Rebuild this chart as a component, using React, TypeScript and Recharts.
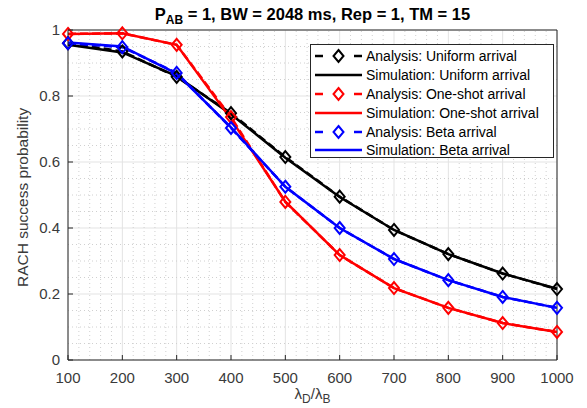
import React from 'react';
import { LineChart, Line, XAxis, YAxis, CartesianGrid, ReferenceLine } from 'recharts';

const xValues = [100, 200, 300, 400, 500, 600, 700, 800, 900, 1000];

const anaUniform = [0.96, 0.935, 0.858, 0.748, 0.615, 0.495, 0.394, 0.321, 0.262, 0.215];
const simUniform = [0.955, 0.932, 0.86, 0.745, 0.613, 0.494, 0.394, 0.321, 0.262, 0.216];
const anaOneShot = [0.988, 0.99, 0.955, 0.736, 0.479, 0.318, 0.218, 0.158, 0.112, 0.085];
const simOneShot = [0.988, 0.99, 0.955, 0.73, 0.48, 0.318, 0.218, 0.158, 0.112, 0.085];
const anaBeta = [0.96, 0.948, 0.87, 0.703, 0.525, 0.4, 0.306, 0.242, 0.191, 0.158];
const simBeta = [0.962, 0.95, 0.868, 0.705, 0.525, 0.4, 0.306, 0.242, 0.191, 0.158];

const xTicks = [100, 200, 300, 400, 500, 600, 700, 800, 900, 1000];
const yTicks = [0, 0.2, 0.4, 0.6, 0.8, 1];
const yTickLabels = ['0', '0.2', '0.4', '0.6', '0.8', '1'];

// minor grid every 20 on x, 0.05 on y
const xMinor: number[] = [];
for (let v = 120; v < 1000; v += 20) if (v % 100 !== 0) xMinor.push(v);
const yMinor: number[] = [];
for (let i = 1; i < 20; i++) if (i % 4 !== 0) yMinor.push(i * 0.05);

const data = xValues.map((x, i) => ({
  x,
  anaU: anaUniform[i],
  simU: simUniform[i],
  anaO: anaOneShot[i],
  simO: simOneShot[i],
  anaB: anaBeta[i],
  simB: simBeta[i],
}));

const BLACK = '#000000';
const RED = '#ff0000';
const BLUE = '#0000ff';
const AXIS = '#262626';
const TEXT = '#3a3a3a';
const FONT = '"Liberation Sans", Arial, Helvetica, sans-serif';

const diamond = (color: string) => (props: any) => {
  const { cx, cy, index } = props;
  if (cx == null || cy == null) return <g key={`d-${index}`} />;
  return (
    <polygon
      key={`d-${index}`}
      points={`${cx},${cy - 6} ${cx + 5},${cy} ${cx},${cy + 6} ${cx - 5},${cy}`}
      fill="none"
      stroke={color}
      strokeWidth={2}
    />
  );
};

const XTick = (props: any) => {
  const { x, y, payload } = props;
  const axisY = y - 8;
  return (
    <g>
      <line x1={x} x2={x} y1={axisY} y2={axisY - 5} stroke={AXIS} strokeWidth={1} />
      <text x={x} y={y} dy={15} textAnchor="middle" fontSize={15} fill={TEXT} fontFamily={FONT}>
        {payload.value}
      </text>
    </g>
  );
};

const YTick = (props: any) => {
  const { x, y, payload } = props;
  const axisX = x + 8;
  return (
    <g>
      <line x1={axisX} x2={axisX + 5} y1={y} y2={y} stroke={AXIS} strokeWidth={1} />
      <text x={x} y={y} dy={5} textAnchor="end" fontSize={15} fill={TEXT} fontFamily={FONT}>
        {yTickLabels[yTicks.indexOf(payload.value)] ?? payload.value}
      </text>
    </g>
  );
};

const XLabel = (props: any) => {
  const { viewBox } = props;
  const cx = viewBox.x + viewBox.width / 2;
  return (
    <text x={cx} y={399} textAnchor="middle" fontSize={15} fill={TEXT} fontFamily={FONT}>
      <tspan>λ</tspan>
      <tspan fontSize={12} dy={4}>D</tspan>
      <tspan dy={-4}>/λ</tspan>
      <tspan fontSize={12} dy={4}>B</tspan>
    </text>
  );
};

const legendItems = [
  { label: 'Analysis: Uniform arrival', color: BLACK, dashed: true },
  { label: 'Simulation: Uniform arrival', color: BLACK, dashed: false },
  { label: 'Analysis: One-shot arrival', color: RED, dashed: true },
  { label: 'Simulation: One-shot arrival', color: RED, dashed: false },
  { label: 'Analysis: Beta arrival', color: BLUE, dashed: true },
  { label: 'Simulation: Beta arrival', color: BLUE, dashed: false },
];

const ChartLegend = () => (
  <div
    style={{
      position: 'absolute',
      left: 310,
      top: 44,
      width: 244,
      height: 114,
      border: '1px solid #262626',
      background: '#fff',
      boxSizing: 'border-box',
      paddingTop: 2,
    }}
  >
    {legendItems.map((it) => (
      <div key={it.label} style={{ display: 'flex', alignItems: 'center', height: 18.8 }}>
        <svg width={52} height={16} style={{ marginLeft: 2, flexShrink: 0 }}>
          {it.dashed ? (
            <>
              <line x1={2} x2={10} y1={8} y2={8} stroke={it.color} strokeWidth={2.5} />
              <line x1={41} x2={49} y1={8} y2={8} stroke={it.color} strokeWidth={2.5} />
              <polygon points="25.5,2 30.5,8 25.5,14 20.5,8" fill="none" stroke={it.color} strokeWidth={2} />
            </>
          ) : (
            <line x1={2} x2={49} y1={8} y2={8} stroke={it.color} strokeWidth={2.5} />
          )}
        </svg>
        <span style={{ fontSize: 14, fontFamily: FONT, color: '#000', marginLeft: 1, whiteSpace: 'nowrap' }}>
          {it.label}
        </span>
      </div>
    ))}
  </div>
);

const series = [
  { key: 'anaU', color: BLACK, dashed: true },
  { key: 'simU', color: BLACK, dashed: false },
  { key: 'anaO', color: RED, dashed: true },
  { key: 'simO', color: RED, dashed: false },
  { key: 'anaB', color: BLUE, dashed: true },
  { key: 'simB', color: BLUE, dashed: false },
];

export default function App() {
  return (
    <div style={{ position: 'absolute', left: 0, top: 0, width: 587, height: 408, background: '#fff' }}>
      <div
        style={{
          position: 'absolute',
          left: 0,
          width: 625,
          top: 5,
          textAlign: 'center',
          fontFamily: FONT,
          fontWeight: 'bold',
          fontSize: 16.5,
          color: '#000',
        }}
      >
        P<sub style={{ fontSize: 12 }}>AB</sub> = 1, BW = 2048 ms, Rep = 1, TM = 15
      </div>
      <LineChart width={587} height={408} data={data} margin={{ top: 30, right: 30, bottom: 18, left: 28 }}>
        <CartesianGrid stroke="#e3e3e3" strokeWidth={1} />
        {xMinor.map((v) => (
          <ReferenceLine key={`xm${v}`} x={v} stroke="#d0d0d0" strokeDasharray="1 3" strokeWidth={1} />
        ))}
        {yMinor.map((v) => (
          <ReferenceLine key={`ym${v}`} y={v} stroke="#d0d0d0" strokeDasharray="1 3" strokeWidth={1} />
        ))}
        <XAxis
          dataKey="x"
          type="number"
          domain={[100, 1000]}
          ticks={xTicks}
          height={30}
          tickSize={0}
          tickMargin={8}
          tickLine={false}
          axisLine={{ stroke: AXIS, strokeWidth: 1 }}
          tick={<XTick />}
          interval={0}
          label={<XLabel />}
        />
        <YAxis
          type="number"
          domain={[0, 1]}
          ticks={yTicks}
          width={40}
          tickSize={0}
          tickMargin={8}
          tickLine={false}
          axisLine={{ stroke: AXIS, strokeWidth: 1 }}
          tick={<YTick />}
          interval={0}
          label={{
            value: 'RACH success probability',
            angle: -90,
            position: 'insideLeft',
            dx: -11,
            dy: 92,
            style: { fontSize: 15.5, fill: TEXT, fontFamily: FONT },
          }}
        />
        <ReferenceLine y={1} stroke={AXIS} strokeWidth={1} />
        <ReferenceLine x={1000} stroke={AXIS} strokeWidth={1} />
        {series.map((s) => (
          <Line
            key={s.key}
            dataKey={s.key}
            type="linear"
            stroke={s.color}
            strokeWidth={2.5}
            strokeDasharray={s.dashed ? '8 4' : undefined}
            dot={s.dashed ? diamond(s.color) : false}
            activeDot={false}
            isAnimationActive={false}
          />
        ))}
      </LineChart>
      <ChartLegend />
    </div>
  );
}
